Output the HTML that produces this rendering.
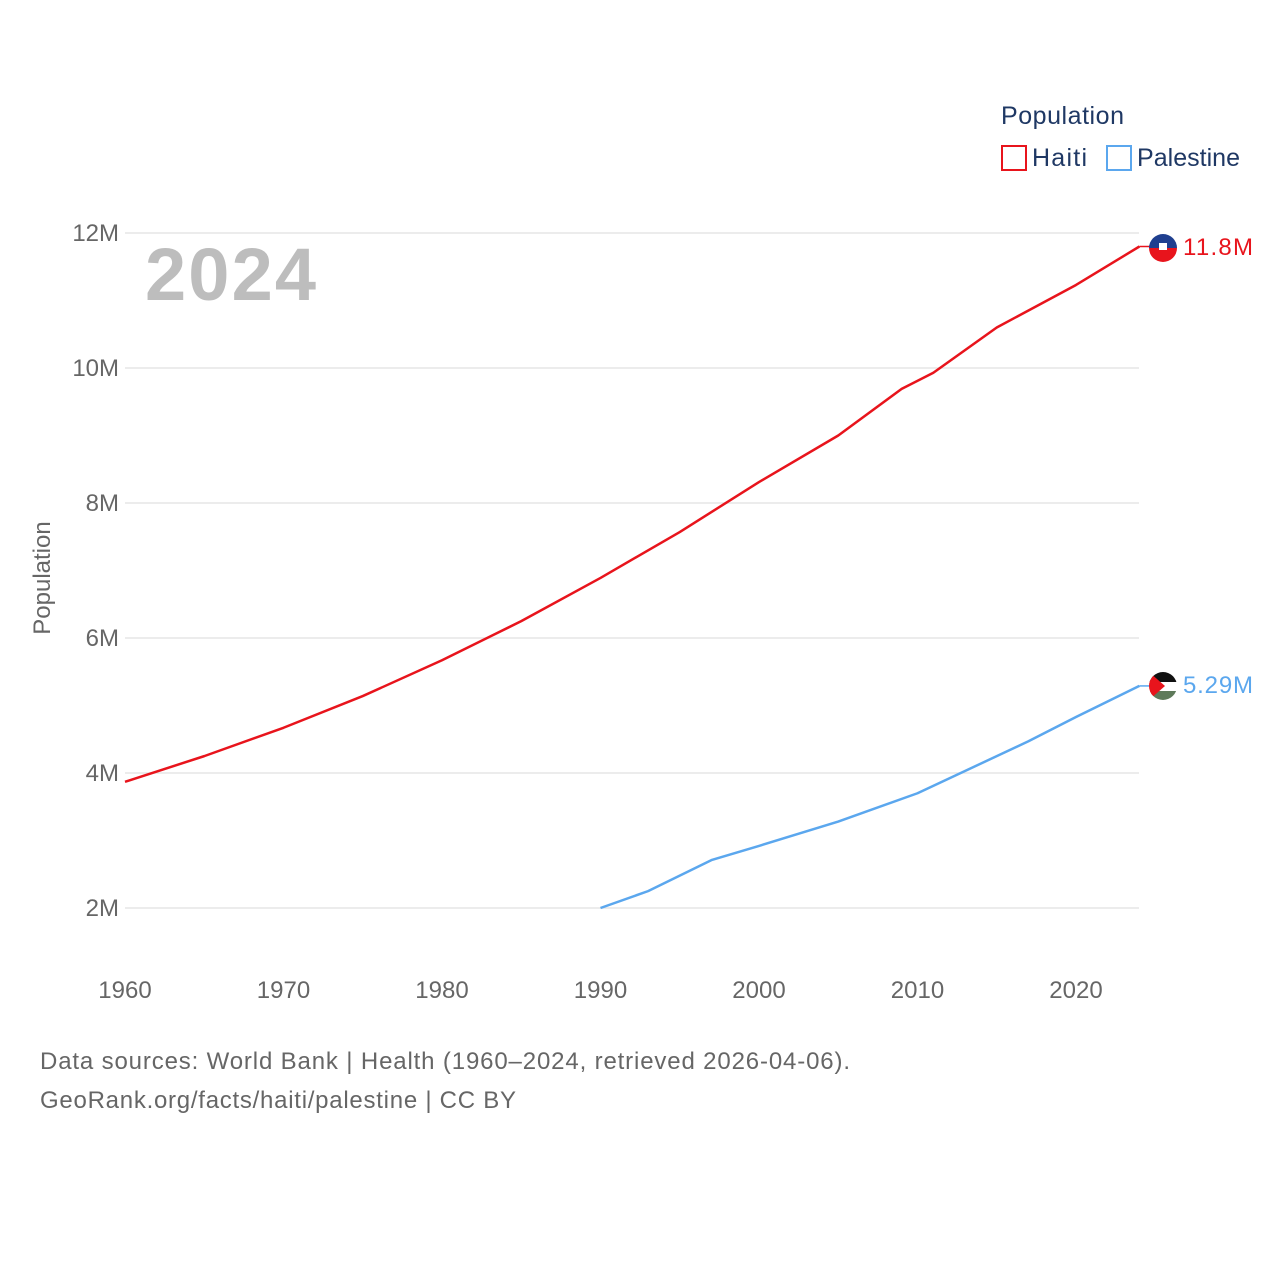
<!DOCTYPE html>
<html><head><meta charset="utf-8"><style>
body{margin:0;background:#fff;font-family:"Liberation Sans",sans-serif}
svg text{font-family:"Liberation Sans",sans-serif}
</style></head><body>
<svg id="chart" width="1280" height="1280" viewBox="0 0 1280 1280">
<rect width="1280" height="1280" fill="#fff"/>
<g id="grid"></g>
<text x="145" y="300" font-size="74" font-weight="bold" fill="#bdbdbd" textLength="171">2024</text>
<text x="50" y="578" font-size="24" fill="#666" transform="rotate(-90 50 578)" text-anchor="middle">Population</text>
<g id="series"></g>
<g>
<text x="1001" y="124" font-size="25" fill="#1f3864" textLength="123">Population</text>
<g><rect x="1002" y="146" width="24" height="24" fill="none" stroke="#e8141c" stroke-width="2"/><text x="1032" y="166" font-size="25" fill="#1f3864" textLength="55">Haiti</text></g>
<g><rect x="1107" y="146" width="24" height="24" fill="none" stroke="#5ba7ee" stroke-width="2"/><text x="1137" y="166" font-size="25" fill="#1f3864" textLength="103">Palestine</text></g>
</g>
<defs>
<clipPath id="c1"><circle cx="1163" cy="248" r="14"/></clipPath>
<clipPath id="c2"><circle cx="1163" cy="686" r="14"/></clipPath>
</defs>
<g clip-path="url(#c1)"><rect x="1149" y="234" width="28" height="14" fill="#1f3f8f"/><rect x="1149" y="248" width="28" height="14" fill="#e8141c"/><rect x="1159" y="243" width="8" height="7" fill="#fff"/></g>
<g clip-path="url(#c2)"><rect x="1149" y="672" width="28" height="10" fill="#111"/><rect x="1149" y="682" width="28" height="9" fill="#fff"/><rect x="1149" y="691" width="28" height="10" fill="#5e7a5a"/><polygon points="1149,672 1165,686 1149,700" fill="#e8141c"/></g>
<text x="1183" y="255" font-size="24" fill="#e8141c" textLength="70">11.8M</text>
<text x="1183" y="693" font-size="24" fill="#5ba7ee" textLength="70">5.29M</text>
<text x="40" y="1069" font-size="24" fill="#666" textLength="810">Data sources: World Bank | Health (1960–2024, retrieved 2026-04-06).</text>
<text x="40" y="1108" font-size="24" fill="#666" textLength="476">GeoRank.org/facts/haiti/palestine | CC BY</text>
</svg>
<script>
const yTicks=[2,4,6,8,10,12];
const yTickLabels=["2M","4M","6M","8M","10M","12M"];
const xTicks=[1960,1970,1980,1990,2000,2010,2020];
const haitiYears=[1960,1965,1970,1975,1980,1985,1990,1995,2000,2005,2009,2011,2015,2020,2024];
const haitiValues=[3.87,4.25,4.67,5.14,5.67,6.25,6.89,7.57,8.31,9.0,9.69,9.93,10.6,11.23,11.8];
const palYears=[1990,1993,1997,2000,2005,2010,2017,2020,2024];
const palValues=[2.0,2.25,2.71,2.92,3.28,3.7,4.47,4.83,5.29];
const NS="http://www.w3.org/2000/svg";
function xs(y){return 125+(y-1960)*(1076-125)/60;}
function ys(v){return 908-(v-2)*67.5;}
const grid=document.getElementById('grid'),ser=document.getElementById('series');
yTicks.forEach((t,i)=>{
 const l=document.createElementNS(NS,'line');
 l.setAttribute('x1',125);l.setAttribute('x2',1139);l.setAttribute('y1',ys(t));l.setAttribute('y2',ys(t));
 l.setAttribute('stroke','#e6e6e6');l.setAttribute('stroke-width','1.5');
 
 
 grid.appendChild(l);
 const tx=document.createElementNS(NS,'text');
 tx.setAttribute('x',119);tx.setAttribute('y',ys(t)+8);tx.setAttribute('text-anchor','end');
 tx.setAttribute('font-size','24');tx.setAttribute('fill','#666');tx.textContent=yTickLabels[i];
 
 
 grid.appendChild(tx);
});
xTicks.forEach(t=>{
 const tx=document.createElementNS(NS,'text');
 tx.setAttribute('x',xs(t));tx.setAttribute('y',998);tx.setAttribute('text-anchor','middle');
 tx.setAttribute('font-size','24');tx.setAttribute('fill','#666');tx.textContent=t;
 
 
 grid.appendChild(tx);
});
function line(years,vals,color,name){
 const p=document.createElementNS(NS,'polyline');
 p.setAttribute('points',years.map((y,i)=>xs(y)+','+ys(vals[i])).join(' '));
 p.setAttribute('fill','none');p.setAttribute('stroke',color);p.setAttribute('stroke-width','2.5');
 p.setAttribute('stroke-linejoin','round');
 
 
 ser.appendChild(p);
 const last=vals[vals.length-1];
 const c=document.createElementNS(NS,'line');
 c.setAttribute('x1',xs(years[years.length-1]));c.setAttribute('x2',1150);
 c.setAttribute('y1',ys(last));c.setAttribute('y2',ys(last));c.setAttribute('stroke',color);c.setAttribute('stroke-width','1.5');
 
 
 ser.appendChild(c);
}
line(haitiYears,haitiValues,'#e8141c','haiti-line');
line(palYears,palValues,'#5ba7ee','palestine-line');
</script>
</body></html>
